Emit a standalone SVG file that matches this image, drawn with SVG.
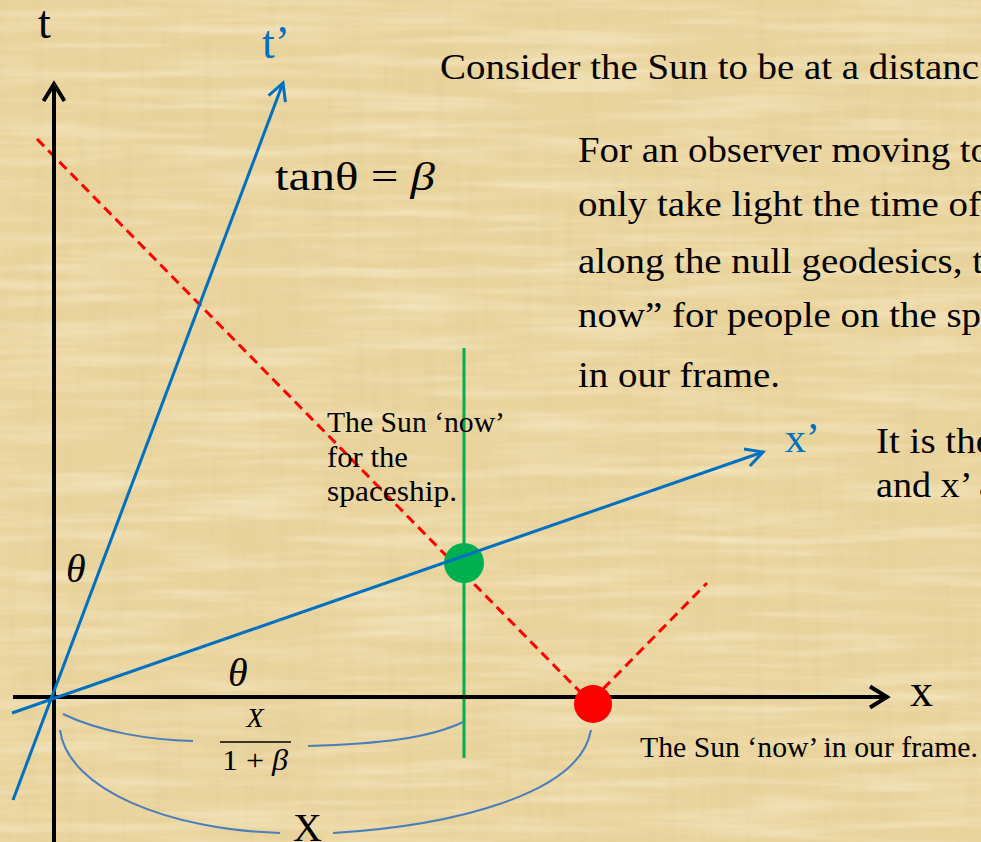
<svg xmlns="http://www.w3.org/2000/svg" width="981" height="842" viewBox="0 0 981 842">
<defs>
<style>
.txt{font-family:"Liberation Serif","Times New Roman",serif;fill:#000;}
.main{font-size:36px;}
.lab{font-size:29px;}
.blue{fill:#0070C0;}
.ax{stroke:#000;stroke-width:4;fill:none;}
.bl{stroke:#0070C0;stroke-width:3;fill:none;}
.red{stroke:#FF0000;stroke-width:3;stroke-dasharray:10 6;fill:none;}
.brace{stroke:#4A7EBB;stroke-width:2;fill:none;}
</style>
<marker id="arrK" viewBox="-20 -13 24 26" refX="0" refY="0" markerWidth="24" markerHeight="26" markerUnits="userSpaceOnUse" orient="auto">
<path d="M-17,-10.5 L0,0 L-17,10.5" fill="none" stroke="#000" stroke-width="4" stroke-linejoin="miter"/>
</marker>
<marker id="arrB" viewBox="-20 -12 24 24" refX="0" refY="0" markerWidth="24" markerHeight="24" markerUnits="userSpaceOnUse" orient="auto">
<path d="M-17,-9 L0,0 L-17,9" fill="none" stroke="#0070C0" stroke-width="3"/>
</marker>
<filter id="vstreak" x="0" y="0" width="100%" height="100%">
<feTurbulence type="fractalNoise" baseFrequency="0.09 0.006" numOctaves="3" seed="4"/>
<feColorMatrix type="matrix" values="0 0 0 0 0.74  0 0 0 0 0.6  0 0 0 0 0.3  0.9 0 0 0 -0.38"/>
</filter>
<filter id="hstreak" x="0" y="0" width="100%" height="100%">
<feTurbulence type="fractalNoise" baseFrequency="0.006 0.09" numOctaves="3" seed="9"/>
<feColorMatrix type="matrix" values="0 0 0 0 1  0 0 0 0 0.95  0 0 0 0 0.8  0.9 0 0 0 -0.38"/>
</filter>
</defs>

<g id="background">
<rect x="0" y="0" width="981" height="842" fill="#EAD49D"/>
<rect x="0" y="0" width="981" height="842" filter="url(#vstreak)"/>
<rect x="0" y="0" width="981" height="842" filter="url(#hstreak)"/>
</g>

<g id="connectors">
<path id="light-past" class="red" d="M37,139 L588,700"/>
<path id="light-future" class="red" d="M603,689 L707,583"/>
<path id="spaceship-worldline" d="M464,348 L464,758" stroke="#00B050" stroke-width="3" fill="none"/>
<path id="t-axis" class="ax" d="M54,842 L54,84" marker-end="url(#arrK)"/>
<path id="x-axis" class="ax" d="M13,697 L887,697" marker-end="url(#arrK)"/>
<path id="brace-small-left" class="brace" d="M63,714 C100,732 150,740 193,741"/>
<path id="brace-small-right" class="brace" d="M308,746 C380,744 430,738 463,722"/>
<path id="brace-big-left" class="brace" d="M60,730 C68,790 170,830 280,833"/>
<path id="brace-big-right" class="brace" d="M333,833 C450,826 580,795 591,730"/>
</g>

<g id="green-dot"><circle cx="464" cy="563" r="20" fill="#00B050"/></g>
<g id="red-dot"><circle cx="593" cy="704" r="19" fill="#FF0000"/></g>

<g id="primed-axes">
<path id="t-prime-axis" class="bl" d="M13,800 L283,83" marker-end="url(#arrB)"/>
<path id="x-prime-axis" class="bl" d="M12,713 L763,452" marker-end="url(#arrB)"/>
</g>

<g id="axis-labels">
<text class="txt" x="38" y="38" font-size="46">t</text>
<text class="txt blue" x="262" y="58" font-size="46">t’</text>
<text class="txt blue" x="785" y="452" font-size="42">x’</text>
<text class="txt" x="910" y="706" font-size="46">x</text>
</g>

<g id="math-labels">
<text class="txt" x="275" y="190" font-size="40" textLength="160" lengthAdjust="spacingAndGlyphs">tanθ = <tspan font-style="italic">β</tspan></text>
<text class="txt" x="66" y="582" font-size="40" font-style="italic">θ</text>
<text class="txt" x="228" y="686" font-size="40" font-style="italic">θ</text>
<text class="txt" x="255" y="727" font-size="28" font-style="italic" text-anchor="middle">X</text>
<line x1="220" y1="742" x2="291" y2="742" stroke="#000" stroke-width="1.6"/>
<text class="txt" x="255" y="770" font-size="29" text-anchor="middle" textLength="66" lengthAdjust="spacingAndGlyphs">1 + <tspan font-style="italic">β</tspan></text>
<text class="txt" x="293" y="841" font-size="40">X</text>
</g>

<g id="text-block">
<text class="txt main" x="440" y="79" textLength="539" lengthAdjust="spacingAndGlyphs">Consider the Sun to be at a distanc</text>
<text class="txt main" x="578" y="162" textLength="412" lengthAdjust="spacingAndGlyphs">For an observer moving to</text>
<text class="txt main" x="578" y="216" textLength="403" lengthAdjust="spacingAndGlyphs">only take light the time of</text>
<text class="txt main" x="578" y="273" textLength="405" lengthAdjust="spacingAndGlyphs">along the null geodesics, t</text>
<text class="txt main" x="578" y="327" textLength="403" lengthAdjust="spacingAndGlyphs">now” for people on the sp</text>
<text class="txt main" x="578" y="387" textLength="202" lengthAdjust="spacingAndGlyphs">in our frame.</text>
<text class="txt main" x="876" y="453" textLength="117" lengthAdjust="spacingAndGlyphs">It is the</text>
<text class="txt main" x="876" y="497" textLength="120" lengthAdjust="spacingAndGlyphs">and x’ a</text>
</g>

<g id="sun-labels">
<text class="txt lab" x="327" y="432" textLength="178" lengthAdjust="spacingAndGlyphs">The Sun ‘now’</text>
<text class="txt lab" x="327" y="467" textLength="81" lengthAdjust="spacingAndGlyphs">for the</text>
<text class="txt lab" x="327" y="501" textLength="130" lengthAdjust="spacingAndGlyphs">spaceship.</text>
<text class="txt" x="640" y="757" font-size="30" textLength="338" lengthAdjust="spacingAndGlyphs">The Sun ‘now’ in our frame.</text>
</g>
</svg>
